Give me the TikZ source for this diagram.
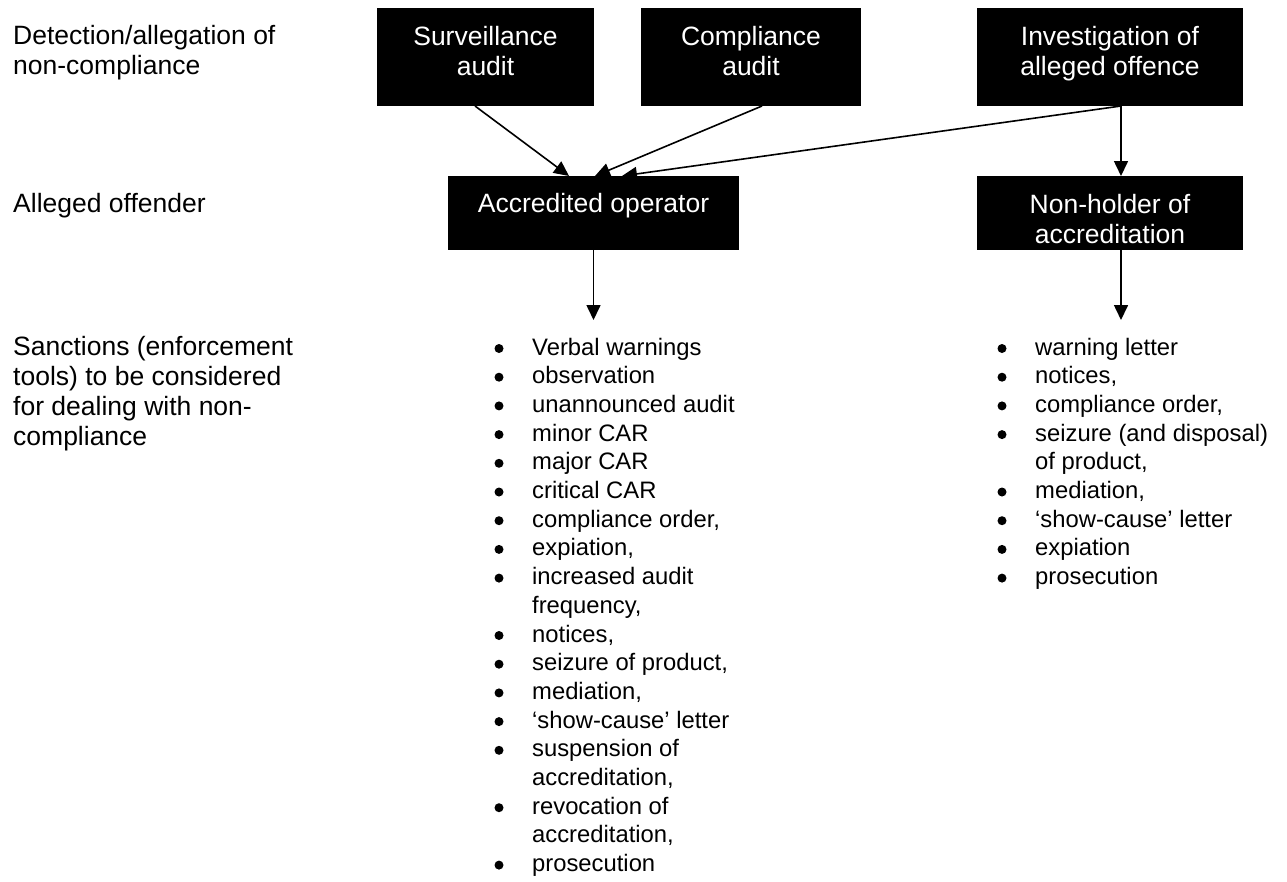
\documentclass[tikz,border=0pt]{standalone}
\usepackage{fontspec}
\setmainfont{Liberation Sans}
\usetikzlibrary{arrows.meta}
\tikzset{
  blackbox/.style={fill=black, draw=none, inner sep=0pt, anchor=north west},
  boxtext/.style={text=white, anchor=base, inner sep=0pt, font=\fontsize{26.5}{30}\selectfont},
  sidelabel/.style={anchor=base west, inner sep=0pt, font=\fontsize{26.5}{30}\selectfont},
  listitem/.style={anchor=base west, inner sep=0pt, font=\fontsize{23.8}{28.7}\selectfont},
  arr/.style={-{Triangle[length=15pt,width=14pt]}, line width=1.6pt},
}
\begin{document}
\begin{tikzpicture}[x=1pt,y=-1pt]
\useasboundingbox (0,0) rectangle (1287,881);

% left labels
\node[sidelabel] (det1) at (13,44) {Detection/allegation of};
\node[sidelabel] (det2) at (13,74) {non-compliance};
\node[sidelabel] (off) at (13,212) {Alleged offender};
\node[sidelabel] (san1) at (13,355) {Sanctions (enforcement};
\node[sidelabel] (san2) at (13,385) {tools) to be considered};
\node[sidelabel] (san3) at (13,415) {for dealing with non-};
\node[sidelabel] (san4) at (13,445) {compliance};

% boxes
\node[blackbox, minimum width=217pt, minimum height=98pt] (surv) at (377,8) {};
\node[blackbox, minimum width=220pt, minimum height=98pt] (comp) at (641,8) {};
\node[blackbox, minimum width=266pt, minimum height=98pt] (inv) at (977,8) {};
\node[blackbox, minimum width=291pt, minimum height=74pt] (acc) at (448,176) {};
\node[blackbox, minimum width=266pt, minimum height=74pt] (nonh) at (977,176) {};

% box texts
\node[boxtext] (survt1) at (485.5,45) {Surveillance};
\node[boxtext] (survt2) at (485.5,75) {audit};
\node[boxtext] (compt1) at (751,45) {Compliance};
\node[boxtext] (compt2) at (751,75) {audit};
\node[boxtext] (invt1) at (1110,45) {Investigation of};
\node[boxtext] (invt2) at (1110,75) {alleged offence};
\node[boxtext] (acct) at (593.5,212) {Accredited operator};
\node[boxtext] (nonht1) at (1110,213) {Non-holder of};
\node[boxtext] (nonht2) at (1110,243) {accreditation};

% connector end points
\coordinate (survout) at (475,106);
\coordinate (compout) at (762,106);
\coordinate (invout) at (1121,106);
\coordinate (accin1) at (569,176);
\coordinate (accin2) at (595,176);
\coordinate (accin3) at (622,176);
\coordinate (nonin) at (1121,176);
\coordinate (accout) at (593.5,250);
\coordinate (acclist) at (593.5,320);
\coordinate (nonout) at (1121,250);
\coordinate (nonlist) at (1121,320);

\draw[arr] (survout) -- (accin1);
\draw[arr] (compout) -- (accin2);
\draw[arr] (invout) -- (accin3);
\draw[arr] (invout) -- (nonin);
\draw[arr] (accout) -- (acclist);
\draw[arr] (nonout) -- (nonlist);

% left list
\foreach \b/\t [count=\i] in {1/Verbal warnings, 1/observation, 1/unannounced audit,
  1/minor CAR, 1/major CAR, 1/critical CAR, 1/{compliance order,}, 1/{expiation,},
  1/increased audit, 0/{frequency,}, 1/{notices,}, 1/{seizure of product,},
  1/{mediation,}, 1/‘show-cause’ letter, 1/suspension of, 0/{accreditation,},
  1/revocation of, 0/{accreditation,}, 1/prosecution}{
  \pgfmathsetmacro\yy{355+(\i-1)*28.7}
  \node[listitem] (la\i) at (532,\yy) {\t};
  \ifnum\b=1 \fill (499,\yy-6.5) circle (4.5pt); \fi
}

% right list
\foreach \b/\t [count=\i] in {1/warning letter, 1/{notices,}, 1/{compliance order,},
  1/seizure (and disposal), 0/{of product,}, 1/{mediation,}, 1/‘show-cause’ letter,
  1/expiation, 1/prosecution}{
  \pgfmathsetmacro\yy{355+(\i-1)*28.7}
  \node[listitem] (lb\i) at (1035,\yy) {\t};
  \ifnum\b=1 \fill (1002,\yy-6.5) circle (4.5pt); \fi
}
\end{tikzpicture}
\end{document}
